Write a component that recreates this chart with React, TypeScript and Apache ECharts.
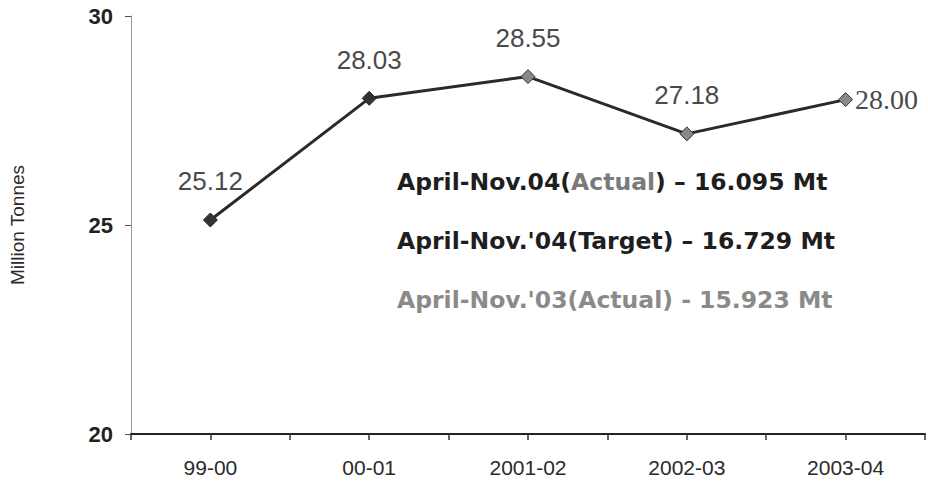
import React, { useEffect, useRef } from "react";
import * as echarts from "echarts";

const categories = ["99-00", "00-01", "2001-02", "2002-03", "2003-04"];
const production = [25.12, 28.03, 28.55, 27.18, 28.0];
const valueLabels = ["25.12", "28.03", "28.55", "27.18", "28.00"];
const yTicks = [20, 25, 30];
const notes = [
  { pre: "April-Nov.04(", mid: "Actual", post: ") – 16.095 Mt", tone: "dark" },
  { pre: "April-Nov.'04(", mid: "Target", post: ") – 16.729 Mt", tone: "dark" },
  { pre: "April-Nov.'03(", mid: "Actual", post: ") - 15.923 Mt", tone: "light" },
];

export default function App() {
  const ref = useRef<HTMLDivElement>(null);
  useEffect(() => {
    if (!ref.current) return;
    const chart = echarts.init(ref.current, null, { renderer: "svg" });
    const xPos = categories.map((_, i) => 2 * i + 1);
    const data = production.map((v, i) => {
      const last = i === categories.length - 1;
      return {
        value: [xPos[i], v],
        itemStyle: i < 2 ? { color: "#333", borderColor: "#222" } : { color: "#888", borderColor: "#333" },
        label: {
          show: true,
          formatter: valueLabels[i],
          position: last ? "right" : "top",
          distance: last ? 2 : 18,
          fontFamily: last ? "Liberation Serif" : "Liberation Sans",
          fontSize: last ? 28 : 26,
          color: "#4a4a4a",
        },
      };
    });
    chart.setOption({
      animation: false,
      grid: { left: 124, right: -6, top: 16, bottom: 51 },
      xAxis: {
        type: "value",
        min: 0,
        max: 10,
        interval: 1,
        splitLine: { show: false },
        axisLine: { lineStyle: { color: "#222", width: 2 } },
        axisTick: { show: true, length: 6, lineStyle: { color: "#333", width: 1.5 } },
        axisLabel: {
          margin: 23,
          fontFamily: "Liberation Sans",
          fontSize: 21,
          color: "#2a2a2a",
          formatter: (v: number) => {
            const idx = xPos.indexOf(v);
            return idx >= 0 ? categories[idx] : "";
          },
        },
      },
      yAxis: {
        type: "value",
        min: yTicks[0],
        max: yTicks[yTicks.length - 1],
        interval: yTicks[1] - yTicks[0],
        name: "Million Tonnes",
        nameLocation: "middle",
        nameGap: 104,
        nameRotate: 90,
        nameTextStyle: { fontFamily: "Liberation Sans", fontSize: 19, color: "#2a2a2a" },
        splitLine: { show: false },
        axisLine: { show: true, lineStyle: { color: "#999", width: 1 } },
        axisTick: { show: true, length: 6, lineStyle: { color: "#555" } },
        axisLabel: {
          margin: 18,
          fontFamily: "Liberation Sans",
          fontSize: 22,
          fontWeight: "bold",
          color: "#222",
        },
      },
      graphic: notes.map((n, i) => ({
        type: "text",
        left: 397,
        top: 170 + i * 59,
        style: {
          text: `{a|${n.pre}}{b|${n.mid}}{a|${n.post}}`,
          rich: {
            a: {
              fontFamily: "DejaVu Sans",
              fontWeight: "bold",
              fontSize: 23.5,
              fill: n.tone === "dark" ? "#1e1e1e" : "#8a8a8a",
            },
            b: {
              fontFamily: "DejaVu Sans",
              fontWeight: "bold",
              fontSize: 23.5,
              fill: n.tone === "dark" && n.mid === "Actual" ? "#7a7a7a" : n.tone === "dark" ? "#1e1e1e" : "#8a8a8a",
            },
          },
        },
      })),
      series: [
        {
          type: "line",
          data,
          symbol: "diamond",
          symbolSize: 14,
          lineStyle: { color: "#2a2a2a", width: 3 },
        },
      ],
    });
    return () => chart.dispose();
  }, []);
  return (
    <div
      ref={ref}
      style={{ position: "fixed", left: 0, top: 0, width: 928, height: 485, background: "#fff" }}
    />
  );
}
